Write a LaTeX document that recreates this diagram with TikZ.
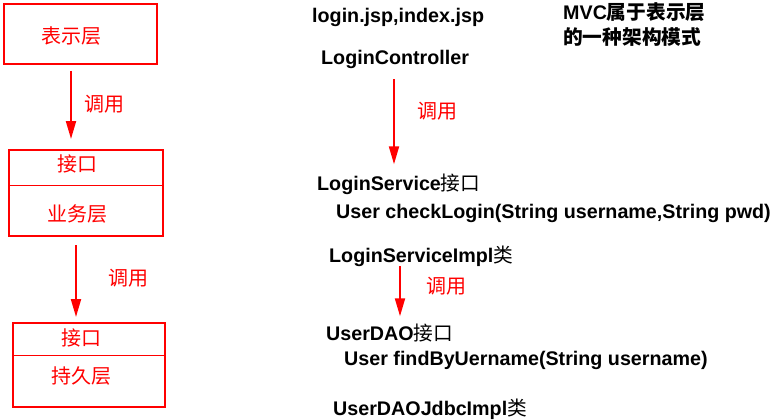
\documentclass[tikz,border=0pt]{standalone}
\usepackage{fontspec}
\setmainfont{Liberation Sans}
\newfontfamily\cjk{Noto Sans CJK SC}
\usepackage{tikz}
\usetikzlibrary{arrows.meta, positioning, calc}
\definecolor{callred}{HTML}{FF0000}

\begin{document}
\begin{tikzpicture}[x=1pt, y=-1pt,
  layerbox/.style={draw=callred, line width=2pt, inner sep=0pt},
  zhred/.style={font=\cjk\fontsize{20}{24}\selectfont, text=callred, inner sep=0pt},
  code/.style={font=\bfseries\fontsize{19.7}{23}\selectfont, anchor=base west, inner sep=0pt},
  callarrow/.style={draw=callred, line width=2pt, -{Triangle[length=18pt,width=10pt]}}]
  \useasboundingbox (0,0) rectangle (771,420);

  % left column: layers
  \node[layerbox, minimum width=153pt, minimum height=60pt] (pres) at (80.5,34) {};
  \node[zhred] (prestxt) at (71,36) {表示层};

  \node[layerbox, minimum width=154pt, minimum height=86pt] (biz) at (86,193) {};
  \coordinate (bizcut) at (0,185);
  \draw[callred, line width=1pt] (biz.west |- bizcut) -- (biz.east |- bizcut);
  \node[zhred] (bizif) at (77,164) {接口};
  \node[zhred] (biztxt) at (77,214) {业务层};

  \node[layerbox, minimum width=152pt, minimum height=84pt] (pers) at (89,365) {};
  \coordinate (perscut) at (0,355);
  \draw[callred, line width=1pt] (pers.west |- perscut) -- (pers.east |- perscut);
  \node[zhred] (persif) at (81,338) {接口};
  \node[zhred] (perstxt) at (81,376) {持久层};

  \draw[callarrow] ($(pres.south)+(-9.5,6)$) -- ($(biz.north)+(-15,-10)$);
  \node[zhred] (call1) at (104,104) {调用};
  \draw[callarrow] ($(biz.south)+(-10,8)$) -- ($(pers.north)+(-13,-5)$);
  \node[zhred] (call2) at (128,278) {调用};

  % right column: classes
  \node[code] (view) at (312,23) {login.jsp,index.jsp};
  \node[code] (ctrl) at (321,64) {LoginController};
  \node[code] (svc) at (317,190) {LoginService{\cjk\mdseries 接口}};
  \node[code] (svcm) at (336,218) {User checkLogin(String username,String pwd)};
  \node[code] (svcimpl) at (329,262) {LoginServiceImpl{\cjk\mdseries 类}};
  \node[code] (dao) at (326,340) {UserDAO{\cjk\mdseries 接口}};
  \node[code] (daom) at (344,365) {User findByUername(String username)};
  \node[code] (daoimpl) at (333,415) {UserDAOJdbcImpl{\cjk\mdseries 类}};
  \node[code] (mvc1) at (563,20) {MVC{\cjk 属于表示层}};
  \node[code] (mvc2) at (563,45) {\cjk 的一种架构模式};

  \draw[callarrow] ($(ctrl.south west)+(73,11)$) -- ($(svc.north west)+(77,-9)$);
  \node[zhred] (call3) at (437,111) {调用};
  \draw[callarrow] ($(svcimpl.south west)+(71,0)$) -- ($(dao.north west)+(74,-7)$);
  \node[zhred] (call4) at (446,286) {调用};
\end{tikzpicture}
\end{document}
